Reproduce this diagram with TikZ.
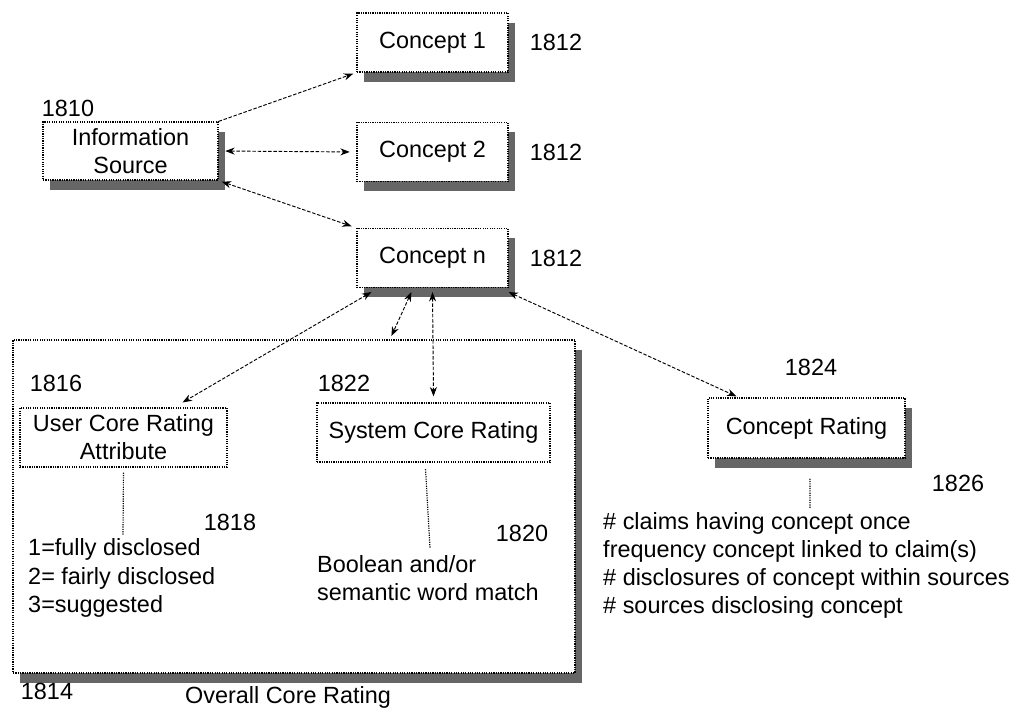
\documentclass[tikz,border=0pt]{standalone}
\usepackage{fontspec}
\setmainfont{Liberation Sans}
\usetikzlibrary{calc,shadows,arrows.meta}

\begin{document}
\begin{tikzpicture}[>={Stealth[length = 8pt, width = 6pt]},
    font = \fontsize{20}{24}\selectfont,
    shadowbox/.style = {draw, densely dotted, line width = 1pt, fill = white, align = center, inner sep = 0pt,
        drop shadow = {shadow xshift = 0.22cm, shadow yshift = -0.3cm, fill = black, opacity = 0.6}},
    plainbox/.style = {draw, densely dotted, line width = 1pt, fill = white, align = center, inner sep = 0pt},
    link/.style = {line width = 0.8pt, dash pattern = on 3pt off 1.5pt},
    tie/.style = {line width = 1pt, densely dotted},
    num/.style = {inner sep = 0pt}]
    \useasboundingbox (0, 0) rectangle (30.6, 21.57);

    %%%%%%%%%% overall core rating %%%%%%%%%%%%%%%%%%%
    \node [shadowbox, minimum width = 16.86cm, minimum height = 9.99cm] (overall) at (8.82, 6.375) {};
    \node [num] (n1814) at (1.41, 0.84) {1814};
    \node [num] (overalltext) at (8.64, 0.66) {Overall Core Rating};

    %%%%%%%%%% source and concepts %%%%%%%%%%%%%%%%%%%
    \node [shadowbox, minimum width = 5.25cm, minimum height = 1.74cm] (info) at (3.915, 17.04) {Information\\Source};
    \node [num] (n1810) at (2.04, 18.33) {1810};

    \foreach \k/\y in {1/20.295, 2/17.01, n/13.83} {
        \node [shadowbox, minimum width = 4.53cm, minimum height = 1.77cm] (c\k) at (12.975, \y) {Concept \k};
        \node [num] (n1812\k) at (16.68, \y) {1812};
    }

    \draw [link, ->, shorten > = 0.1cm] (info.north east)  --  (c1.south west);
    \draw [link, <->, shorten < = 0.2cm, shorten > = 0.2cm] (info.east)  --  (c2.west);
    \draw [link, <->, shorten < = 0.1cm, shorten > = 0.15cm] (info.south east)  --  (cn.north west);

    %%%%%%%%%% core ratings %%%%%%%%%%%%%%%%%%%
    \node [plainbox, minimum width = 6.21cm, minimum height = 1.77cm] (user) at (3.705, 8.445) {User Core Rating\\Attribute};
    \node [num] (n1816) at (1.68, 10.08) {1816};
    \node [plainbox, minimum width = 6.99cm, minimum height = 1.77cm] (sys) at (13.005, 8.595) {System Core Rating};
    \node [num] (n1822) at (10.32, 10.08) {1822};

    \coordinate (userend) at (3.69, 5.52);
    \draw [tie, shorten < = 0.15cm] (user.south)  --  (userend);
    \node [num] (n1818) at (6.9, 5.91) {1818};
    \node [num, anchor = west, align = left] (usertext) at (0.84, 4.23) {1=fully disclosed\\2= fairly disclosed\\3=suggested};

    \coordinate (sysend) at (12.9, 5.13);
    \draw [tie, shorten < = 0.2cm] ([xshift = -0.25cm]sys.south)  --  (sysend);
    \node [num] (n1820) at (15.66, 5.58) {1820};
    \node [num, anchor = west, align = left] (systext) at (9.51, 4.215) {Boolean and/or\\semantic word match};

    %%%%%%%%%% concept rating %%%%%%%%%%%%%%%%%%%
    \node [shadowbox, minimum width = 5.91cm, minimum height = 1.8cm] (crate) at (24.195, 8.73) {Concept Rating};
    \node [num] (n1824) at (24.33, 10.56) {1824};
    \node [num] (n1826) at (28.74, 7.08) {1826};
    \coordinate (crateend) at (24.3, 6.33);
    \draw [tie, shorten < = 0.6cm] ([xshift = 0.1cm]crate.south)  --  (crateend);
    \node [num, anchor = west, align = left] (cratetext) at (18.09, 4.605) {\# claims having concept once\\frequency concept linked to claim(s)\\\# disclosures of concept within sources\\\# sources disclosing concept};

    %%%%%%%%%% links from concept n %%%%%%%%%%%%%%%%%%%
    \draw [link, <->] ([xshift = 0.45cm, yshift = -0.12cm]cn.south west)  --  ([xshift = -1.35cm, yshift = 0.15cm]user.north east);
    \draw [link, <->] ([xshift = 1.65cm, yshift = -0.12cm]cn.south west)  --  ([xshift = 11.37cm, yshift = 0.1cm]overall.north west);
    \draw [link, <->] ([yshift = -0.12cm]cn.south)  --  ([yshift = 0.18cm]sys.north);
    \draw [link, <->] ([yshift = -0.12cm]cn.south east)  --  ([xshift = 0.87cm, yshift = 0.03cm]crate.north west);

\end{tikzpicture}
\end{document}
